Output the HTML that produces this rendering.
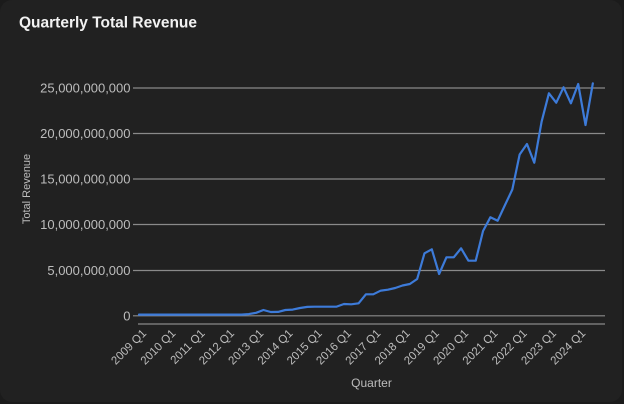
<!DOCTYPE html>
<html>
<head>
<meta charset="utf-8">
<style>
  html, body { margin: 0; padding: 0; background: #1a1a1a; }
  body { width: 624px; height: 404px; overflow: hidden; }
  svg { display: block; }
  text { font-family: "Liberation Sans", sans-serif; }
</style>
</head>
<body>
<svg width="624" height="404" viewBox="0 0 624 404" xmlns="http://www.w3.org/2000/svg">
  <rect x="0" y="0" width="624" height="404" fill="#1b1b1b"/>
  <rect x="0" y="0" width="622" height="402" rx="12" ry="12" fill="#212121"/>

  <!-- Title -->
  <text x="19" y="27.5" font-size="15.5" font-weight="bold" fill="#f2f2f2" textLength="178" lengthAdjust="spacingAndGlyphs">Quarterly Total Revenue</text>

  <!-- Gridlines -->
  <g stroke="#8a8a8a" stroke-width="1.2">
    <line x1="133" y1="88" x2="605" y2="88"/>
    <line x1="133" y1="133.5" x2="605" y2="133.5"/>
    <line x1="133" y1="179" x2="605" y2="179"/>
    <line x1="133" y1="224.5" x2="605" y2="224.5"/>
    <line x1="133" y1="270.5" x2="605" y2="270.5"/>
    <line x1="133" y1="315.8" x2="605" y2="315.8"/>
    <line x1="138" y1="324" x2="605" y2="324"/>
  </g>

  <!-- Y tick labels -->
  <g font-size="13" fill="#bdbdbd" text-anchor="end">
    <text x="130.5" y="92.5">25,000,000,000</text>
    <text x="130.5" y="138">20,000,000,000</text>
    <text x="130.5" y="183.5">15,000,000,000</text>
    <text x="130.5" y="229">10,000,000,000</text>
    <text x="130.5" y="275">5,000,000,000</text>
    <text x="130.5" y="320.3">0</text>
  </g>

  <!-- Y axis title -->
  <text transform="translate(30,189) rotate(-90)" font-size="11" fill="#bdbdbd" text-anchor="middle">Total Revenue</text>

  <!-- X tick labels -->
  <g font-size="11.5" fill="#bdbdbd" text-anchor="end">
    <text transform="translate(147,334) rotate(-45)">2009 Q1</text>
    <text transform="translate(176.28,334) rotate(-45)">2010 Q1</text>
    <text transform="translate(205.56,334) rotate(-45)">2011 Q1</text>
    <text transform="translate(234.84,334) rotate(-45)">2012 Q1</text>
    <text transform="translate(264.12,334) rotate(-45)">2013 Q1</text>
    <text transform="translate(293.4,334) rotate(-45)">2014 Q1</text>
    <text transform="translate(322.68,334) rotate(-45)">2015 Q1</text>
    <text transform="translate(351.96,334) rotate(-45)">2016 Q1</text>
    <text transform="translate(381.24,334) rotate(-45)">2017 Q1</text>
    <text transform="translate(410.52,334) rotate(-45)">2018 Q1</text>
    <text transform="translate(439.8,334) rotate(-45)">2019 Q1</text>
    <text transform="translate(469.08,334) rotate(-45)">2020 Q1</text>
    <text transform="translate(498.36,334) rotate(-45)">2021 Q1</text>
    <text transform="translate(527.64,334) rotate(-45)">2022 Q1</text>
    <text transform="translate(556.92,334) rotate(-45)">2023 Q1</text>
    <text transform="translate(586.2,334) rotate(-45)">2024 Q1</text>
  </g>

  <!-- X axis title -->
  <text x="371.5" y="387" font-size="12" fill="#bdbdbd" text-anchor="middle">Quarter</text>

  <!-- Series -->
  <polyline fill="none" stroke="#3d7bd9" stroke-width="2.2" stroke-linejoin="round" stroke-linecap="round"
    points="139,314.6 146.32,314.6 153.64,314.6 160.96,314.6 168.28,314.6 175.6,314.6 182.92,314.6 190.24,314.6 197.56,314.6 204.88,314.6 212.2,314.6 219.52,314.6 226.84,314.6 234.16,314.6 241.48,314.6 248.8,314.1 256.12,312.8 263.44,310 270.76,312 278.08,311.9 285.4,310 292.72,309.6 300.04,308 307.36,306.9 314.68,306.7 322,306.7 329.32,306.7 336.64,306.6 343.96,304 351.28,304.3 358.6,303.3 365.92,294.3 373.24,294.3 380.56,290.7 387.88,289.7 395.2,288 402.52,285.5 409.84,284 417.16,279 424.48,253.3 431.8,249.3 439.12,274 446.44,257.3 453.76,257.3 461.08,248.3 468.4,260.7 475.72,260.7 483.04,231 490.36,217.3 497.68,220.7 505,205 512.32,189.5 519.64,154.5 526.96,144 534.28,162.7 541.6,121.7 548.92,93.3 556.24,102.7 563.56,87.3 570.88,103.3 578.2,84 585.52,125 592.84,83.3"/>
</svg>
</body>
</html>
